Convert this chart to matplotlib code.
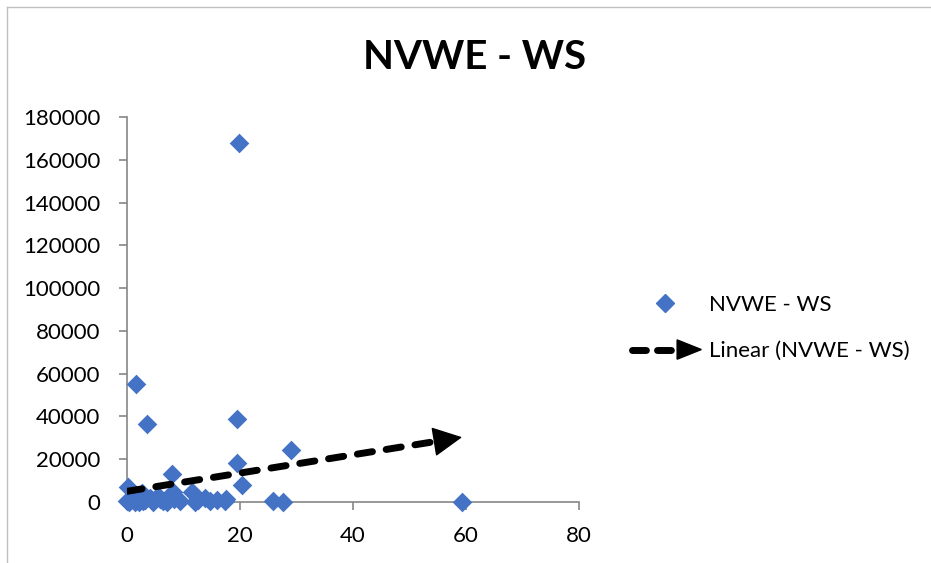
import numpy as np
import matplotlib
matplotlib.use('Agg')
import matplotlib.pyplot as plt
from matplotlib.lines import Line2D
from matplotlib.patches import Polygon
from matplotlib.legend_handler import HandlerBase

plt.rcParams['font.family'] = ['Lato', 'DejaVu Sans']

# scatter values
ws_x = [19.8, 1.6, 3.5, 19.4, 19.5, 20.3, 29.0, 7.9, 0.1, 11.5, 59.3, 25.9, 27.6,
        0.0, 0.3, 0.8, 1.4, 1.8, 2.2, 2.7, 2.8, 3.2, 4.0, 4.6, 5.5, 5.8, 6.4,
        7.0, 8.1, 8.3, 9.4, 12.0, 12.5, 13.8, 14.7, 15.9, 17.3, 17.6]
ws_y = [168000, 55200, 36500, 38600, 18300, 7800, 24400, 13200, 7000, 4800, 200, 300, 0,
        500, 0, 1200, 200, 2500, 0, 4000, 300, 800, 2000, 100, 3000, 1200, 500,
        0, 4500, 1500, 300, 200, 1000, 1900, 300, 1000, 500, 1400]

# linear trendline endpoints
trend_x = [0, 59.3]
trend_y = [5000, 30300]

x_ticks = [0, 20, 40, 60, 80]
y_ticks = list(range(0, 180001, 20000))

title = 'NVWE - WS'
series_label = 'NVWE - WS'
trend_label = 'Linear (NVWE - WS)'

blue = '#4472C4'


class ArrowHandler(HandlerBase):
    def create_artists(self, legend, orig_handle, xdescent, ydescent,
                       width, height, fontsize, trans):
        x0 = -xdescent
        x1 = width - xdescent
        yc = height / 2 - ydescent
        hl = 0.33 * width
        hw = 0.62 * height
        line = Line2D([x0 + 3, x1 - hl + 2], [yc, yc], color='black', lw=5,
                      linestyle=(0, (2.0, 1.6)), dash_capstyle='round',
                      solid_capstyle='round', transform=trans)
        head = Polygon([[x1 - hl, yc + hw], [x1, yc], [x1 - hl, yc - hw]],
                       closed=True, color='black', transform=trans)
        return [line, head]


fig = plt.figure(figsize=(9.31, 5.63), dpi=100)
ax = fig.add_axes([127 / 931, 61 / 563, 452 / 931, 385 / 563])

ax.scatter(ws_x, ws_y, marker='D', s=100, color=blue, linewidths=0, zorder=3,
           clip_on=False)

# trendline: dashed body plus arrow head at the end
tx = np.array(trend_x)
ty = np.array(trend_y)
frac = 0.93
bx = tx[0] + (tx[1] - tx[0]) * frac
by = ty[0] + (ty[1] - ty[0]) * frac
ax.plot([tx[0], bx], [ty[0], by], color='black', lw=5,
        linestyle=(0, (2.2, 2.0)), dash_capstyle='round', zorder=4)
ax.annotate('', xy=(tx[1], ty[1]), xytext=(bx, by),
            arrowprops=dict(arrowstyle='-|>,head_length=0.95,head_width=0.48',
                            color='black', lw=1, mutation_scale=20,
                            shrinkA=0, shrinkB=0), zorder=5)

ax.set_xlim(0, 80)
ax.set_ylim(0, 180000)
ax.set_xticks(x_ticks)
ax.set_yticks(y_ticks)
ax.set_xticklabels([str(v) for v in x_ticks])
ax.set_yticklabels([str(v) for v in y_ticks])

for side in ['top', 'right']:
    ax.spines[side].set_visible(False)
for side in ['left', 'bottom']:
    ax.spines[side].set_color('#868686')
    ax.spines[side].set_linewidth(1.2)
ax.tick_params(axis='y', length=6, width=1.2, color='#868686', pad=13, labelsize=16)
ax.tick_params(axis='x', length=6, width=1.2, color='#868686', pad=11, labelsize=16)

fig.text(0.51, 1 - 58 / 563, title, fontsize=29, fontweight='bold',
         ha='center', va='center')

# legend on the right
handles = [Line2D([], [], marker='D', color=blue, linestyle='none', markersize=9),
           Line2D([], [], color='black')]
fig.legend(handles, [series_label, trend_label],
           handler_map={handles[1]: ArrowHandler()},
           loc='center left', bbox_to_anchor=(628 / 931, 1 - 328 / 563),
           frameon=False, fontsize=16, handlelength=3.3, handletextpad=0.35,
           labelspacing=1.2, borderpad=0, borderaxespad=0)

# chart area border
fig.add_artist(Line2D([7 / 931, 7 / 931], [0, 1 - 7 / 563], transform=fig.transFigure,
                      color='#BFBFBF', lw=1))
fig.add_artist(Line2D([7 / 931, 1], [1 - 7 / 563, 1 - 7 / 563], transform=fig.transFigure,
                      color='#BFBFBF', lw=1))

fig.savefig('out.png', dpi=100)
